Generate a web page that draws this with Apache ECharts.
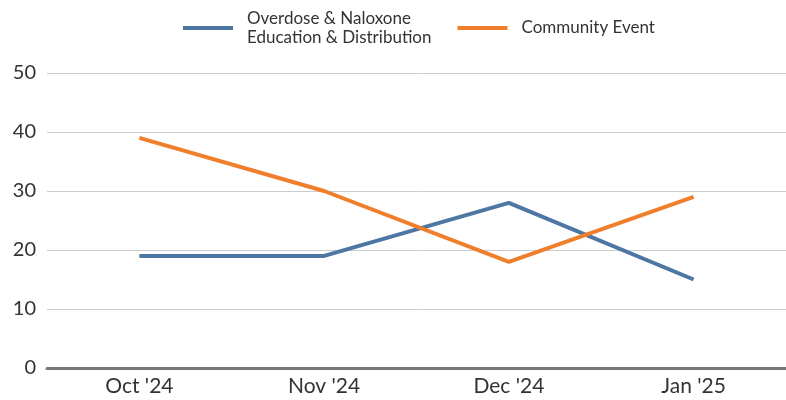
<!DOCTYPE html>
<html><head><meta charset="utf-8">
<script src="https://cdn.jsdelivr.net/npm/echarts@6/dist/echarts.min.js"></script>
<style>html,body{margin:0;padding:0;background:#fff}#c{width:786px;height:400px}</style>
</head><body><div id="c"></div>
<script>
const categories = ["Oct '24", "Nov '24", "Dec '24", "Jan '25"];
const overdoseValues = [19, 19, 28, 15];
const communityValues = [39, 30, 18, 29];
const yTicks = [0, 10, 20, 30, 40, 50];
const seriesNames = ["Overdose & Naloxone\nEducation & Distribution", "Community Event"];

const chart = echarts.init(document.getElementById('c'));
chart.setOption({
  animation: false,
  textStyle: { fontFamily: 'Lato' },
  legend: {
    top: 9, left: 183, padding: 0, itemWidth: 50, itemHeight: 4, itemGap: 26,
    icon: 'rect',
    textStyle: { fontFamily: 'Lato', fontSize: 17, color: '#333', lineHeight: 19, padding: [0, 0, 0, 9] },
    data: seriesNames
  },
  grid: { left: 47, right: 0, top: 73, bottom: 32, containLabel: false },
  xAxis: {
    type: 'category', data: categories,
    axisLine: { lineStyle: { color: '#777', width: 3 } },
    axisTick: { show: false },
    axisLabel: { fontFamily: 'Lato', fontSize: 21, color: '#333', margin: 8 }
  },
  yAxis: {
    type: 'value', min: yTicks[0], max: yTicks[yTicks.length - 1], interval: 10,
    axisLine: { show: false }, axisTick: { show: false },
    axisLabel: { fontFamily: 'Lato', fontSize: 20, color: '#333', margin: 11 },
    splitLine: { lineStyle: { color: '#ccc', width: 1 } }
  },
  series: [
    { name: seriesNames[0], type: 'line', data: overdoseValues, showSymbol: false, symbol: 'none',
      lineStyle: { width: 4, color: '#4e76a2' }, itemStyle: { color: '#4e76a2' } },
    { name: seriesNames[1], type: 'line', data: communityValues, showSymbol: false, symbol: 'none',
      lineStyle: { width: 4, color: '#f07f2c' }, itemStyle: { color: '#f07f2c' } }
  ]
});
</script></body></html>
